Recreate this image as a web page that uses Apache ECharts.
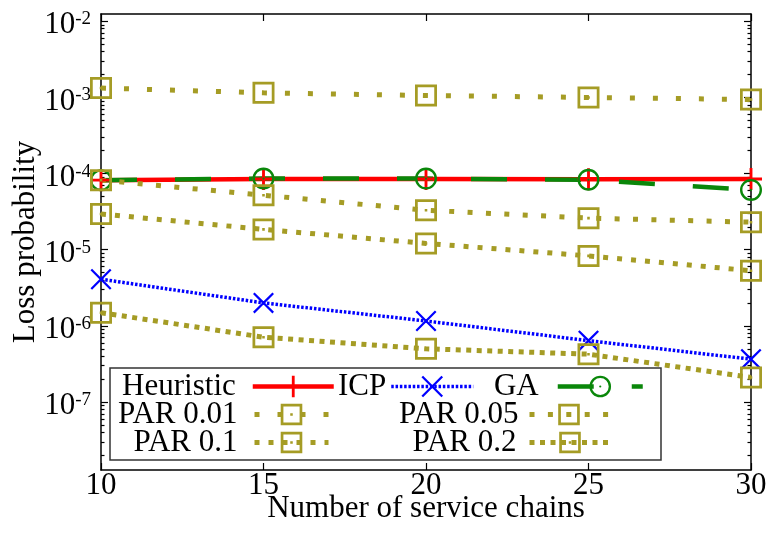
<!DOCTYPE html>
<html>
<head>
<meta charset="utf-8">
<script src="https://cdn.jsdelivr.net/npm/echarts@6/dist/echarts.min.js"></script>
<style>
  html, body { margin: 0; padding: 0; background: #fff; }
  #chart { width: 768px; height: 533px; }
</style>
</head>
<body>
<div id="chart"></div>
<script>
// Loss probability versus number of service chains
const chains = [10, 15, 20, 25, 30];
const heuristic = [8.2e-5, 8.5e-5, 8.5e-5, 8.4e-5, 8.5e-5];
const icp = [4.1e-6, 2.0e-6, 1.16e-6, 6.4e-7, 3.65e-7];
const ga = [8.2e-5, 8.6e-5, 8.6e-5, 8.3e-5, 6.1e-5];
const par001 = [1.33e-3, 1.15e-3, 1.06e-3, 1.0e-3, 9.4e-4];
const par005 = [8.2e-5, 5.2e-5, 3.3e-5, 2.6e-5, 2.3e-5];
const par01 = [2.95e-5, 1.85e-5, 1.21e-5, 8.3e-6, 5.3e-6];
const par02 = [1.49e-6, 7.1e-7, 5.0e-7, 4.25e-7, 2.1e-7];

const xTicks = [10, 15, 20, 25, 30];
const yDecades = [-7, -6, -5, -4, -3, -2];   // labelled powers of ten

const FONT = 'Liberation Serif';
const OLIVE = '#a59c25';
const RED = '#ff0000';
const BLUE = '#0000ff';
const GREEN = '#0a870a';

// visible y-range, in powers of ten
const yLoExp = -7.893;
const yHiExp = -1.904;

// minor tick positions (2..9 x 10^e) in exponent space
const minorExp = [];
for (let e = -8; e <= -2; e++) {
  for (let k = 2; k <= 9; k++) {
    const v = e + Math.log10(k);
    if (v > yLoExp && v < yHiExp) minorExp.push(v);
  }
}

// marker shapes
const SQUARE = 'path://M0,0 H24 V24 H0 Z M3,3 V21 H21 V3 Z M10.6,10.6 H13.4 V13.4 H10.6 Z';
const CIRCLE = 'path://M0,12 A12,12 0 1,0 24,12 A12,12 0 1,0 0,12 Z M2.6,12 A9.4,9.4 0 1,1 21.4,12 A9.4,9.4 0 1,1 2.6,12 Z M10.8,12 A1.2,1.2 0 1,0 13.2,12 A1.2,1.2 0 1,0 10.8,12 Z';
const PLUS = 'path://M8.7,0 H11.3 V8.7 H20 V11.3 H11.3 V20 H8.7 V11.3 H0 V8.7 H8.7 Z';
const CROSS = 'path://M0,1.5 L1.5,0 L10,8.5 L18.5,0 L20,1.5 L11.5,10 L20,18.5 L18.5,20 L10,11.5 L1.5,20 L0,18.5 L8.5,10 Z';

function pairs(vals) { return chains.map((c, i) => [c, vals[i]]); }

function lineSeries(name, vals, color, width, dash, symbol, size) {
  return {
    name: name,
    type: 'line',
    data: pairs(vals),
    xAxisIndex: 0,
    yAxisIndex: 0,
    symbol: symbol,
    symbolSize: size,
    showAllSymbol: true,
    lineStyle: { color: color, width: width, type: dash, cap: 'butt' },
    itemStyle: { color: color, borderWidth: 0 },
    emphasis: { disabled: true },
    z: 2
  };
}

const axisLineStyle = { color: '#000', width: 1.5 };
const tickStyle = { color: '#000', width: 1.2 };

function legendItem(name, right, top, width, gap) {
  return {
    data: [name],
    right: right,
    top: top,
    orient: 'horizontal',
    align: 'right',
    padding: 0,
    itemWidth: width,
    itemHeight: 27,
    selectedMode: false,
    textStyle: { fontFamily: FONT, fontSize: 31, color: '#000', padding: [0, gap, 0, 0] },
    lineStyle: { width: 'inherit', type: 'inherit' },
    itemStyle: { borderWidth: 0 }
  };
}

const chart = echarts.init(document.getElementById('chart'), null, { renderer: 'canvas' });

chart.setOption({
  animation: false,
  backgroundColor: '#fff',
  grid: { left: 101, right: 17, top: 14, bottom: 63, containLabel: false, outerBoundsMode: 'none' },
  xAxis: [
    {
      type: 'value', min: 10, max: 30, interval: 5, position: 'bottom',
      axisLine: { onZero: false, lineStyle: axisLineStyle },
      axisTick: { inside: true, length: 7, lineStyle: tickStyle, customValues: xTicks },
      axisLabel: { fontFamily: FONT, fontSize: 31, color: '#000', margin: 0, customValues: xTicks },
      splitLine: { show: false },
      name: 'Number of service chains', nameLocation: 'middle', nameGap: 23, nameMoveOverlap: false,
      nameTextStyle: { fontFamily: FONT, fontSize: 31, color: '#000' }
    },
    {
      type: 'value', min: 10, max: 30, interval: 5, position: 'top',
      axisLine: { onZero: false, lineStyle: axisLineStyle },
      axisTick: { inside: true, length: 7, lineStyle: tickStyle, customValues: xTicks },
      axisLabel: { show: false },
      splitLine: { show: false }
    }
  ],
  yAxis: [
    {
      type: 'log', logBase: 10, position: 'left',
      min: Math.pow(10, yLoExp), max: Math.pow(10, yHiExp),
      axisLine: { show: true, onZero: false, lineStyle: axisLineStyle },
      axisTick: { show: false }, axisLabel: { show: false }, splitLine: { show: false },
      name: 'Loss probability', nameLocation: 'middle', nameGap: 60, nameMoveOverlap: false,
      nameTextStyle: { fontFamily: FONT, fontSize: 31, color: '#000' }
    },
    {
      type: 'value', position: 'left', min: yLoExp, max: yHiExp,
      axisLine: { show: false },
      axisTick: { show: true, inside: true, length: 7, lineStyle: tickStyle, customValues: yDecades },
      axisLabel: {
        customValues: yDecades, margin: 10, padding: [8, 0, 0, 0],
        formatter: v => '{b|10}{s|' + Math.round(v) + '}',
        rich: {
          b: { fontFamily: FONT, fontSize: 31, color: '#000', lineHeight: 31, verticalAlign: 'bottom' },
          s: { fontFamily: FONT, fontSize: 19, color: '#000', lineHeight: 20, verticalAlign: 'top', padding: [0, 0, 24, 0] }
        }
      },
      splitLine: { show: false }
    },
    {
      type: 'value', position: 'left', min: yLoExp, max: yHiExp,
      axisLine: { show: false },
      axisTick: { show: true, inside: true, length: 3.5, lineStyle: tickStyle, customValues: minorExp },
      axisLabel: { show: false }, splitLine: { show: false }
    },
    {
      type: 'value', position: 'right', min: yLoExp, max: yHiExp,
      axisLine: { show: true, onZero: false, lineStyle: axisLineStyle },
      axisTick: { show: true, inside: true, length: 7, lineStyle: tickStyle, customValues: yDecades },
      axisLabel: { show: false }, splitLine: { show: false }
    },
    {
      type: 'value', position: 'right', min: yLoExp, max: yHiExp,
      axisLine: { show: false },
      axisTick: { show: true, inside: true, length: 3.5, lineStyle: tickStyle, customValues: minorExp },
      axisLabel: { show: false }, splitLine: { show: false }
    }
  ],
  legend: [
    legendItem('Heuristic', 768 - 336, 371, 81, 12),
    legendItem('ICP', 768 - 475, 371, 82, 0),
    legendItem('GA', 768 - 645, 371, 85, 14),
    legendItem('PAR 0.01', 768 - 331, 399, 74, 12),
    legendItem('PAR 0.05', 768 - 611, 399, 79, 6),
    legendItem('PAR 0.1', 768 - 331, 427, 74, 12),
    legendItem('PAR 0.2', 768 - 613, 427, 81, 8)
  ],
  graphic: [
    {
      type: 'rect', z: 1,
      shape: { x: 110, y: 368, width: 551, height: 92 },
      style: { fill: '#fff', stroke: '#333', lineWidth: 1.5 }
    }
  ],
  series: [
    lineSeries('Heuristic', heuristic, RED, 4.5, 'solid', PLUS, 22),
    lineSeries('ICP', icp, BLUE, 3.5, [2.5, 1.8], CROSS, 21),
    lineSeries('GA', ga, GREEN, 4.5, [36, 38], CIRCLE, 22),
    lineSeries('PAR 0.01', par001, OLIVE, 5, [5, 18], SQUARE, 22),
    lineSeries('PAR 0.05', par005, OLIVE, 5, [5, 13.4], SQUARE, 22),
    lineSeries('PAR 0.1', par01, OLIVE, 5, [5, 9], SQUARE, 22),
    lineSeries('PAR 0.2', par02, OLIVE, 5, [5, 5.5], SQUARE, 22)
  ]
});
</script>
</body>
</html>
